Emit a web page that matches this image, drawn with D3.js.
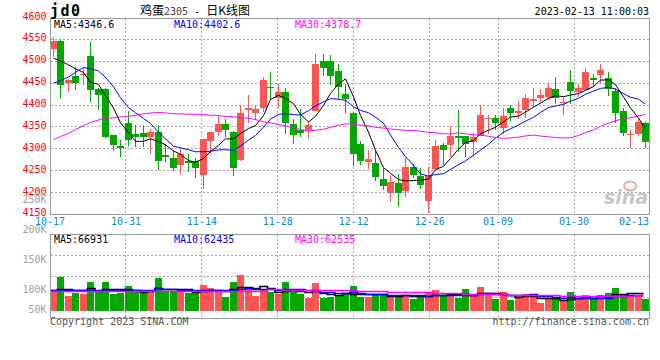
<!DOCTYPE html>
<html><head><meta charset="utf-8">
<script src="https://cdn.jsdelivr.net/npm/d3@7/dist/d3.min.js"></script>
<style>body{margin:0;background:#fff}svg{display:block}</style>
</head><body>
<svg id="c" width="660" height="360"></svg>
<script>
// ---------- data ----------
const dates = ["10-17","10-18","10-19","10-20","10-21","10-24","10-25","10-26","10-27","10-28","10-31",
"11-01","11-02","11-03","11-04","11-07","11-08","11-09","11-10","11-11","11-14","11-15","11-16","11-17","11-18","11-21","11-22","11-23","11-24","11-25","11-28","11-29","11-30",
"12-01","12-02","12-05","12-06","12-07","12-08","12-09","12-12","12-13","12-14","12-15","12-16","12-19","12-20","12-21","12-22","12-23","12-26","12-27","12-28","12-29","12-30",
"01-03","01-04","01-05","01-06","01-09","01-10","01-11","01-12","01-13","01-16","01-17","01-18","01-19","01-20","01-30","01-31",
"02-01","02-02","02-03","02-06","02-07","02-08","02-09","02-10","02-13"];
const xTickDates = ["10-17","10-31","11-14","11-28","12-12","12-26","01-09","01-30","02-13"];
const open  = [4529,4547,4451,4467,4469,4512,4437,4437,4331,4307,4358,4334,4335,4326,4339,4286,4280,4264,4272,4272,
4240,4318,4338,4356,4339,4274,4389,4381,4393,4442,4417,4429,4356,4343,4342,4387,4501,4501,4478,4425,
4383,4310,4269,4267,4232,4198,4221,4203,4259,4238,4180,4254,4309,4309,4330,4329,4315,4330,4369,4371,
4347,4394,4383,4389,4410,4417,4419,4437,4404,4452,4429,4435,4461,4469,4461,4432,4387,4331,4333,4360];
const high  = [4555,4547,4458,4486,4484,4544,4437,4437,4331,4320,4385,4353,4354,4343,4354,4309,4295,4299,4286,4278,
4322,4338,4376,4368,4339,4399,4422,4399,4463,4475,4446,4438,4368,4391,4362,4516,4515,4513,4493,4448,
4383,4316,4295,4297,4255,4238,4241,4280,4264,4254,4257,4318,4312,4351,4387,4329,4335,4399,4376,4377,
4393,4399,4408,4425,4437,4435,4446,4463,4417,4480,4446,4484,4471,4492,4475,4438,4393,4341,4366,4360];
const low   = [4511,4416,4432,4435,4446,4409,4389,4326,4297,4282,4307,4305,4306,4289,4253,4272,4251,4244,4247,4235,
4209,4289,4331,4327,4240,4274,4360,4366,4385,4412,4394,4335,4312,4328,4324,4387,4467,4448,4414,4383,
4261,4264,4254,4228,4208,4179,4167,4190,4234,4209,4154,4254,4263,4282,4293,4282,4282,4330,4335,4343,
4335,4364,4370,4371,4396,4408,4412,4404,4379,4404,4419,4435,4442,4450,4422,4360,4330,4302,4331,4302];
const close = [4547,4446,4458,4450,4471,4435,4423,4328,4309,4302,4320,4327,4327,4338,4272,4282,4257,4287,4267,4255,
4322,4338,4356,4343,4255,4383,4394,4391,4457,4440,4429,4358,4331,4335,4354,4493,4484,4467,4442,4414,
4287,4272,4276,4235,4215,4223,4200,4259,4241,4217,4238,4307,4297,4330,4325,4312,4328,4377,4371,4358,
4374,4383,4387,4417,4414,4422,4438,4416,4406,4432,4440,4475,4458,4480,4437,4383,4335,4333,4362,4316];
const volume = [79000,137000,61000,73000,67000,116000,77000,116000,67000,73000,100000,77000,73000,79000,132000,79000,77000,79000,73000,77000,
104000,91000,75000,56000,116000,144000,95000,61000,86000,75000,67000,116000,79000,67000,52000,112000,51000,56000,61000,73000,
100000,56000,56000,63000,63000,61000,63000,63000,47000,61000,77000,83000,61000,61000,52000,87000,63000,95000,66000,47000,
75000,43000,61000,67000,63000,32000,47000,50000,39000,75000,47000,63000,47000,63000,71000,91000,67000,63000,66000,47000];
// moving-average values before enough history exists
const ma5Head  = [4507,4501,4492,4483];
const ma10Head = [4450,4456,4464,4475,4486,4483,4478,4463,4442];
const ma30Head = [4321,4328,4335,4344,4353,4360,4366,4370,4371,4373,4374,4377,4380,4382,4383,4382,4380,4380,4379,4379,4378,4377,4376,4374,4373,4371,4370,4367,4362];
const vma5Head  = [86000,88000,88000,85000];
const vma10Head = [84000,84000,85000,85000,84000,84000,85000,85000,84000];
const vma30Head = [79000,79000,79000,79000,79000,79000,79000,79000,79000,79000,79000,79000,79000,79000,79000,79000,79000,79000,79000,79000,79000,79000,79000,79000,79000,79000,79000,79000,79000];
const priceTicks = [4600,4550,4500,4450,4400,4350,4300,4250,4200,4150];
const volTicks = [250000,200000,150000,100000,50000];
const maNames = ["MA5","MA10","MA30"];
const maLastPrice = ["4346.6","4402.6","4378.7"];
const maLastVol = ["66931","62435","62535"];
const titleCode = "jd0";
const titleName = "鸡蛋2305";
const titleKind = "日K线图";
const stamp = "2023-02-13 11:00:03";

// ---------- drawing ----------
const svg = d3.select("#c");
const RED = "#ff5454", GREEN = "#00a800", GRID = "#a8a8a8", BORDER = "#9a9a9a";
const maColors = ["#000000","#0000ff","#ff00ff"];
const mono = "'DejaVu Sans Mono', monospace";
const N = dates.length;
const idx = d3.range(N);

const x = d3.scaleBand().domain(idx).range([50, 650]);
const xg = d3.scalePoint().domain(idx).range([50, 650]);
const y = d3.scaleLinear().domain([4150, 4600]).range([214.4, 17.6]);
const yv = d3.scaleLinear().domain([0, 300000]).range([311, 236.6]);
const yvLab = d3.scaleLinear().domain([250000, 100000]).range([202.7, 293.3]);

function ma(arr, n, head) {
  return arr.map((d, i) => i < n - 1 ? head[i] : d3.mean(arr.slice(i - n + 1, i + 1)));
}
const mainMA = [ma(close,5,ma5Head), ma(close,10,ma10Head), ma(close,30,ma30Head)];
const volMA = [ma(volume,5,vma5Head), ma(volume,10,vma10Head), ma(volume,30,vma30Head)];

const px = v => Math.floor(v) + 0.5;
const cx = i => Math.floor(x(i) + 3);

// ---- main panel grid ----
const gMain = svg.append("g");
gMain.selectAll(".hg").data(priceTicks.filter(t => t > 4150 && t < 4600)).join("line")
  .attr("x1", 51).attr("x2", 650).attr("y1", d => px(y(d))).attr("y2", d => px(y(d)))
  .attr("stroke", GRID).attr("stroke-dasharray", "2,2");
const tickIdx = xTickDates.map(d => dates.indexOf(d));
gMain.selectAll(".vg").data(tickIdx.filter(i => i > 0 && i < N - 1)).join("line")
  .attr("x1", i => px(xg(i))).attr("x2", i => px(xg(i))).attr("y1", 19).attr("y2", 214)
  .attr("stroke", GRID).attr("stroke-dasharray", "2,2");

// ---- volume panel grid ----
const vTop = 234, vBot = 318;
const vGridY = d3.range(1, 4).map(k => vTop + (vBot - vTop) * k / 4);
svg.selectAll(".vhg").data(vGridY).join("line")
  .attr("x1", 51).attr("x2", 650).attr("y1", d => px(d)).attr("y2", d => px(d))
  .attr("stroke", GRID).attr("stroke-dasharray", "2,2");
svg.selectAll(".vvg").data(tickIdx.filter(i => i > 0 && i < N - 1)).join("line")
  .attr("x1", i => px(xg(i))).attr("x2", i => px(xg(i))).attr("y1", vTop + 1).attr("y2", vBot)
  .attr("stroke", GRID).attr("stroke-dasharray", "2,2");

// watermark
const wm = svg.append("g").attr("opacity", 0.55);
wm.append("text").attr("x", 648).attr("y", 204).attr("text-anchor", "end")
  .attr("font-family", "'DejaVu Sans', sans-serif").attr("font-size", 19).attr("font-weight", "bold")
  .attr("font-style", "italic").attr("fill", "#9a9a9a").text("sina");
wm.append("ellipse").attr("cx", 630).attr("cy", 186).attr("rx", 6).attr("ry", 4.5)
  .attr("fill", "none").attr("stroke", "#e06060").attr("stroke-width", 2);

// ---- candles ----
const col = i => close[i] >= open[i] ? RED : GREEN;
const cg = svg.append("g").attr("shape-rendering", "crispEdges");
cg.selectAll(".wick").data(idx).join("line")
  .attr("x1", i => cx(i) + 0.5).attr("x2", i => cx(i) + 0.5)
  .attr("y1", i => Math.floor(y(high[i]))).attr("y2", i => Math.ceil(y(low[i])))
  .attr("stroke", col);
cg.selectAll(".body").data(idx).join("rect")
  .attr("x", i => cx(i) - 3).attr("width", 7)
  .attr("y", i => Math.round(y(Math.max(open[i], close[i]))))
  .attr("height", i => Math.max(1, Math.round(y(Math.min(open[i], close[i]))) - Math.round(y(Math.max(open[i], close[i])))))
  .attr("fill", col);

// ---- main MA lines ----
const lineMain = d3.line().x((d, i) => cx(i) + 0.5).y(d => y(d));
svg.append("g").selectAll("path").data(mainMA).join("path")
  .attr("d", lineMain).attr("fill", "none").attr("stroke", (d, k) => maColors[k]).attr("stroke-width", 1);

// ---- volume bars ----
const vg = svg.append("g").attr("shape-rendering", "crispEdges");
vg.selectAll("rect").data(idx).join("rect")
  .attr("x", i => cx(i) - 3).attr("width", 7)
  .attr("y", i => Math.round(yv(volume[i])))
  .attr("height", i => 311 - Math.round(yv(volume[i])))
  .attr("fill", col);
const lineVol = d3.line().x((d, i) => x(i)).y(d => Math.round(yv(d)) + 0.5).curve(d3.curveStepAfter);
svg.append("g").selectAll("path").data(volMA).join("path")
  .attr("d", d => lineVol(d.concat([d[d.length - 1]])))
  .attr("fill", "none").attr("stroke", (d, k) => maColors[k]).attr("stroke-width", 1.6);

// ---- borders ----
const bg = svg.append("g").attr("fill", "none").attr("stroke", BORDER).attr("shape-rendering", "crispEdges");
bg.append("path").attr("d", "M50.5,214.5V18.5H649.5V214.5");
bg.append("line").attr("x1", 50).attr("x2", 650).attr("y1", 214.5).attr("y2", 214.5);
bg.append("rect").attr("x", 50.5).attr("y", vTop + 0.5).attr("width", 599).attr("height", vBot - vTop);

// ---- axis labels ----
svg.append("g").selectAll("text").data(priceTicks).join("text")
  .attr("x", 46.5).attr("y", d => y(d) + 2).attr("text-anchor", "end")
  .attr("font-family", mono).attr("font-size", 10).attr("fill", "#ff0000").text(d => d);
svg.append("g").selectAll("text").data(volTicks).join("text")
  .attr("x", 46.5).attr("y", d => Math.min(313.3, yvLab(d)))
  .attr("text-anchor", "end").attr("font-family", mono).attr("font-size", 10).attr("fill", "#a0a0a0")
  .text(d => (d / 1000) + "K");
svg.append("g").selectAll("text").data(tickIdx).join("text")
  .attr("x", i => xg(i)).attr("y", 224.5)
  .attr("text-anchor", i => i === N - 1 ? "end" : "middle")
  .attr("dx", i => i === N - 1 ? -1 : 0)
  .attr("font-family", mono).attr("font-size", 10).attr("fill", "#0a84dc").text(i => dates[i]);

// ---- legends ----
const legX = [54, 174, 295];
svg.append("g").selectAll("text").data(maNames).join("text")
  .attr("x", (d, k) => legX[k]).attr("y", 27.5).attr("font-family", mono).attr("font-size", 10)
  .attr("fill", (d, k) => maColors[k]).text((d, k) => d + ":" + maLastPrice[k]);
svg.append("g").selectAll("text").data(maNames).join("text")
  .attr("x", (d, k) => legX[k]).attr("y", 243).attr("font-family", mono).attr("font-size", 10)
  .attr("fill", (d, k) => maColors[k]).text((d, k) => d + ":" + maLastVol[k]);

// ---- header ----
svg.append("text").attr("x", 50).attr("y", 16).attr("font-family", mono).attr("font-size", 15)
  .attr("font-weight", "bold").attr("letter-spacing", 1.5).attr("fill", "#000").text(titleCode);
const t = svg.append("text").attr("x", 140).attr("y", 15).attr("font-size", 12).attr("fill", "#000")
  .attr("font-family", "'Noto Sans CJK SC', sans-serif");
t.append("tspan").text(titleName.slice(0, 2));
t.append("tspan").attr("font-family", mono).attr("font-size", 10).attr("fill", "#444").text(titleName.slice(2));
t.append("tspan").attr("font-family", mono).attr("font-size", 10).text(" - ");
t.append("tspan").text(titleKind);
svg.append("text").attr("x", 649).attr("y", 15).attr("text-anchor", "end").attr("font-family", mono)
  .attr("font-size", 10).attr("fill", "#000").text(stamp);

// ---- footer ----
svg.append("text").attr("x", 50).attr("y", 325).attr("font-family", mono).attr("font-size", 10)
  .attr("fill", "#555").text("Copyright 2023 SINA.COM");
svg.append("text").attr("x", 649).attr("y", 325).attr("text-anchor", "end").attr("font-family", mono)
  .attr("font-size", 10).attr("fill", "#555").text("http://finance.sina.com.cn");
</script>
</body></html>
